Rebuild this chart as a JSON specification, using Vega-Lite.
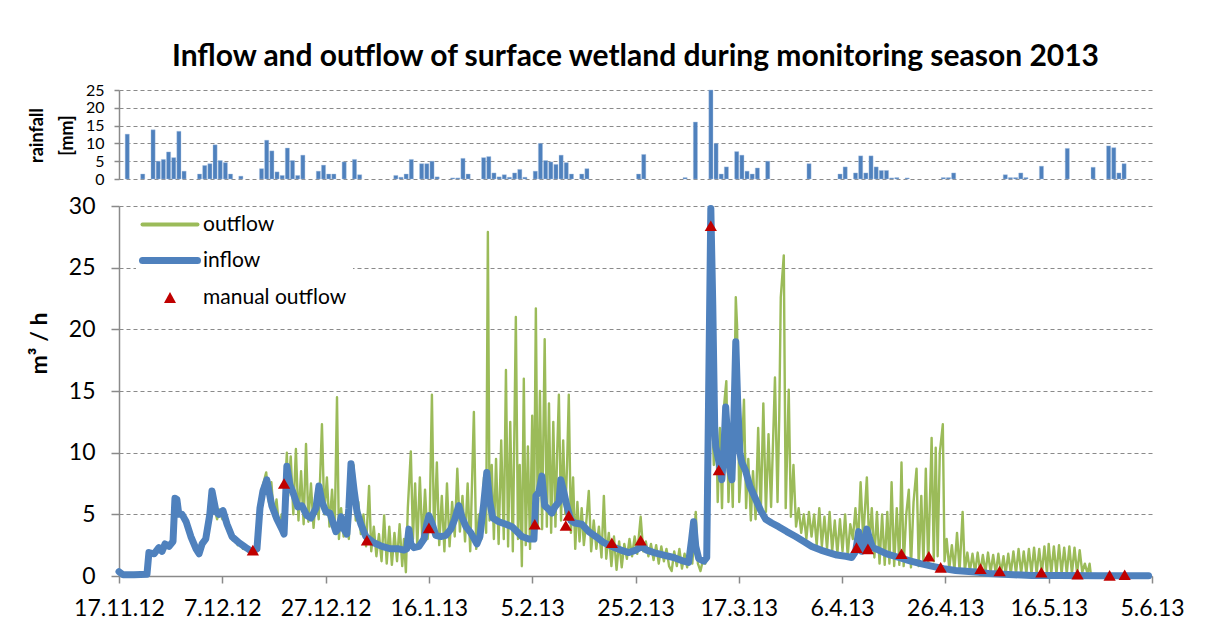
{
  "$schema": "https://vega.github.io/schema/vega-lite/v6.json",
  "background": "white",
  "padding": {"left": 28, "top": 42, "right": 10, "bottom": 5},
  "spacing": 8,
  "config": {
    "font": "Lato",
    "view": {"stroke": null},
    "axis": {
      "gridColor": "#8a8a8a", "gridDash": [4, 3], "gridWidth": 1.2,
      "domainColor": "#8a8a8a", "domainWidth": 1.5,
      "tickColor": "#8a8a8a", "tickWidth": 1.5,
      "labelColor": "#000000", "titleColor": "#000000",
      "labelFont": "Lato", "titleFont": "Lato"
    }
  },
  "datasets": {
    "rain": [
      {"t": "2012-11-18T00:00", "rain": 12.6}, {"t": "2012-11-21T00:00", "rain": 1.4},
      {"t": "2012-11-23T00:00", "rain": 13.8}, {"t": "2012-11-24T00:00", "rain": 5.0},
      {"t": "2012-11-25T00:00", "rain": 5.5}, {"t": "2012-11-26T00:00", "rain": 7.6},
      {"t": "2012-11-27T00:00", "rain": 6.0}, {"t": "2012-11-28T00:00", "rain": 13.4},
      {"t": "2012-11-29T00:00", "rain": 2.2}, {"t": "2012-12-02T00:00", "rain": 1.4},
      {"t": "2012-12-03T00:00", "rain": 3.8}, {"t": "2012-12-04T00:00", "rain": 4.3},
      {"t": "2012-12-05T00:00", "rain": 9.6}, {"t": "2012-12-06T00:00", "rain": 5.2},
      {"t": "2012-12-07T00:00", "rain": 4.6}, {"t": "2012-12-08T00:00", "rain": 1.4},
      {"t": "2012-12-10T00:00", "rain": 0.8}, {"t": "2012-12-14T00:00", "rain": 2.9},
      {"t": "2012-12-15T00:00", "rain": 10.9}, {"t": "2012-12-16T00:00", "rain": 7.9},
      {"t": "2012-12-17T00:00", "rain": 2.0}, {"t": "2012-12-18T00:00", "rain": 1.0},
      {"t": "2012-12-19T00:00", "rain": 8.7}, {"t": "2012-12-20T00:00", "rain": 5.2},
      {"t": "2012-12-21T00:00", "rain": 1.0}, {"t": "2012-12-22T00:00", "rain": 6.7},
      {"t": "2012-12-25T00:00", "rain": 2.2}, {"t": "2012-12-26T00:00", "rain": 3.9},
      {"t": "2012-12-27T00:00", "rain": 1.4}, {"t": "2012-12-28T00:00", "rain": 1.4},
      {"t": "2012-12-30T00:00", "rain": 4.8}, {"t": "2013-01-01T00:00", "rain": 5.5},
      {"t": "2013-01-02T00:00", "rain": 1.2}, {"t": "2013-01-09T00:00", "rain": 1.0},
      {"t": "2013-01-10T00:00", "rain": 0.5}, {"t": "2013-01-11T00:00", "rain": 1.4},
      {"t": "2013-01-12T00:00", "rain": 5.5}, {"t": "2013-01-14T00:00", "rain": 4.3},
      {"t": "2013-01-15T00:00", "rain": 4.3}, {"t": "2013-01-16T00:00", "rain": 5.0},
      {"t": "2013-01-17T00:00", "rain": 0.6}, {"t": "2013-01-20T00:00", "rain": 0.3},
      {"t": "2013-01-21T00:00", "rain": 0.3}, {"t": "2013-01-22T00:00", "rain": 5.8},
      {"t": "2013-01-23T00:00", "rain": 1.4}, {"t": "2013-01-26T00:00", "rain": 6.0},
      {"t": "2013-01-27T00:00", "rain": 6.3}, {"t": "2013-01-28T00:00", "rain": 1.7},
      {"t": "2013-01-29T00:00", "rain": 0.6}, {"t": "2013-01-30T00:00", "rain": 1.2},
      {"t": "2013-01-31T00:00", "rain": 0.5}, {"t": "2013-02-01T00:00", "rain": 1.7},
      {"t": "2013-02-02T00:00", "rain": 2.7}, {"t": "2013-02-03T00:00", "rain": 0.5},
      {"t": "2013-02-05T00:00", "rain": 2.2}, {"t": "2013-02-06T00:00", "rain": 10.0},
      {"t": "2013-02-07T00:00", "rain": 5.2}, {"t": "2013-02-08T00:00", "rain": 4.8},
      {"t": "2013-02-09T00:00", "rain": 4.1}, {"t": "2013-02-10T00:00", "rain": 6.7},
      {"t": "2013-02-11T00:00", "rain": 4.6}, {"t": "2013-02-12T00:00", "rain": 1.4},
      {"t": "2013-02-14T00:00", "rain": 1.4}, {"t": "2013-02-15T00:00", "rain": 2.9},
      {"t": "2013-02-25T00:00", "rain": 1.4}, {"t": "2013-02-26T00:00", "rain": 6.9},
      {"t": "2013-03-06T00:00", "rain": 0.4}, {"t": "2013-03-08T00:00", "rain": 16.0},
      {"t": "2013-03-11T00:00", "rain": 25.0}, {"t": "2013-03-12T00:00", "rain": 10.0},
      {"t": "2013-03-13T00:00", "rain": 1.4}, {"t": "2013-03-14T00:00", "rain": 3.4},
      {"t": "2013-03-16T00:00", "rain": 7.7}, {"t": "2013-03-17T00:00", "rain": 6.7},
      {"t": "2013-03-18T00:00", "rain": 2.2}, {"t": "2013-03-19T00:00", "rain": 1.4},
      {"t": "2013-03-20T00:00", "rain": 3.1}, {"t": "2013-03-22T00:00", "rain": 5.0},
      {"t": "2013-03-30T00:00", "rain": 4.3}, {"t": "2013-04-05T00:00", "rain": 1.4},
      {"t": "2013-04-06T00:00", "rain": 3.4}, {"t": "2013-04-08T00:00", "rain": 1.7},
      {"t": "2013-04-09T00:00", "rain": 6.5}, {"t": "2013-04-10T00:00", "rain": 1.7},
      {"t": "2013-04-11T00:00", "rain": 6.5}, {"t": "2013-04-12T00:00", "rain": 3.4},
      {"t": "2013-04-13T00:00", "rain": 2.4}, {"t": "2013-04-14T00:00", "rain": 2.4},
      {"t": "2013-04-15T00:00", "rain": 0.3}, {"t": "2013-04-16T00:00", "rain": 0.4},
      {"t": "2013-04-18T00:00", "rain": 0.3}, {"t": "2013-04-25T00:00", "rain": 0.4},
      {"t": "2013-04-26T00:00", "rain": 0.4}, {"t": "2013-04-27T00:00", "rain": 1.7},
      {"t": "2013-05-07T00:00", "rain": 1.2}, {"t": "2013-05-08T00:00", "rain": 0.4},
      {"t": "2013-05-09T00:00", "rain": 0.4}, {"t": "2013-05-10T00:00", "rain": 1.7},
      {"t": "2013-05-11T00:00", "rain": 0.4}, {"t": "2013-05-14T00:00", "rain": 3.6},
      {"t": "2013-05-19T00:00", "rain": 8.6}, {"t": "2013-05-24T00:00", "rain": 3.3},
      {"t": "2013-05-27T00:00", "rain": 9.3}, {"t": "2013-05-28T00:00", "rain": 8.8},
      {"t": "2013-05-29T00:00", "rain": 1.7}, {"t": "2013-05-30T00:00", "rain": 4.3}
    ],
    "inflow": [
      {"t": "2012-11-17T00:00", "v": 0.35}, {"t": "2012-11-17T19:00", "v": 0.1},
      {"t": "2012-11-19T22:00", "v": 0.1}, {"t": "2012-11-22T10:00", "v": 0.15},
      {"t": "2012-11-22T19:00", "v": 1.9}, {"t": "2012-11-23T19:00", "v": 1.8},
      {"t": "2012-11-24T17:00", "v": 2.3}, {"t": "2012-11-25T08:00", "v": 2.0},
      {"t": "2012-11-25T22:00", "v": 2.6}, {"t": "2012-11-26T16:00", "v": 2.4},
      {"t": "2012-11-27T11:00", "v": 2.8}, {"t": "2012-11-27T20:00", "v": 6.3},
      {"t": "2012-11-28T05:00", "v": 6.2}, {"t": "2012-11-28T14:00", "v": 5.0},
      {"t": "2012-11-29T05:00", "v": 5.0}, {"t": "2012-11-30T00:00", "v": 4.4},
      {"t": "2012-11-30T22:00", "v": 3.2}, {"t": "2012-12-01T22:00", "v": 2.2},
      {"t": "2012-12-02T12:00", "v": 1.8}, {"t": "2012-12-03T02:00", "v": 2.6},
      {"t": "2012-12-03T19:00", "v": 3.0}, {"t": "2012-12-04T14:00", "v": 5.0},
      {"t": "2012-12-05T00:00", "v": 6.9}, {"t": "2012-12-05T10:00", "v": 6.0},
      {"t": "2012-12-05T19:00", "v": 5.2}, {"t": "2012-12-06T08:00", "v": 5.0},
      {"t": "2012-12-07T03:00", "v": 5.3}, {"t": "2012-12-07T22:00", "v": 4.2},
      {"t": "2012-12-08T21:00", "v": 3.2}, {"t": "2012-12-10T05:00", "v": 2.7},
      {"t": "2012-12-11T14:00", "v": 2.3}, {"t": "2012-12-12T17:00", "v": 2.0},
      {"t": "2012-12-13T17:00", "v": 2.2}, {"t": "2012-12-14T07:00", "v": 5.5},
      {"t": "2012-12-14T21:00", "v": 6.9}, {"t": "2012-12-15T15:00", "v": 7.8},
      {"t": "2012-12-16T05:00", "v": 6.5}, {"t": "2012-12-16T14:00", "v": 5.7},
      {"t": "2012-12-17T14:00", "v": 4.6}, {"t": "2012-12-18T13:00", "v": 3.8},
      {"t": "2012-12-18T23:00", "v": 3.4}, {"t": "2012-12-19T12:00", "v": 8.9},
      {"t": "2012-12-20T02:00", "v": 7.4}, {"t": "2012-12-20T16:00", "v": 6.8},
      {"t": "2012-12-21T15:00", "v": 5.6}, {"t": "2012-12-22T10:00", "v": 5.7},
      {"t": "2012-12-23T09:00", "v": 4.9}, {"t": "2012-12-24T04:00", "v": 4.7},
      {"t": "2012-12-25T03:00", "v": 5.5}, {"t": "2012-12-25T17:00", "v": 7.3},
      {"t": "2012-12-26T07:00", "v": 6.0}, {"t": "2012-12-27T02:00", "v": 5.2},
      {"t": "2012-12-27T20:00", "v": 5.1}, {"t": "2012-12-29T00:00", "v": 3.6},
      {"t": "2012-12-29T14:00", "v": 3.9}, {"t": "2012-12-30T00:00", "v": 4.8},
      {"t": "2012-12-30T13:00", "v": 3.8}, {"t": "2012-12-31T03:00", "v": 3.4},
      {"t": "2012-12-31T12:00", "v": 5.5}, {"t": "2012-12-31T22:00", "v": 9.1},
      {"t": "2013-01-01T12:00", "v": 7.0}, {"t": "2013-01-02T02:00", "v": 5.2},
      {"t": "2013-01-02T20:00", "v": 4.2}, {"t": "2013-01-03T19:00", "v": 3.2},
      {"t": "2013-01-05T08:00", "v": 2.7}, {"t": "2013-01-06T22:00", "v": 2.4},
      {"t": "2013-01-08T15:00", "v": 2.2}, {"t": "2013-01-10T04:00", "v": 2.2},
      {"t": "2013-01-11T04:00", "v": 2.1}, {"t": "2013-01-11T17:00", "v": 2.2},
      {"t": "2013-01-12T03:00", "v": 3.8}, {"t": "2013-01-12T12:00", "v": 2.6},
      {"t": "2013-01-13T02:00", "v": 2.3}, {"t": "2013-01-14T02:00", "v": 2.4},
      {"t": "2013-01-15T01:00", "v": 3.0}, {"t": "2013-01-15T14:00", "v": 4.2},
      {"t": "2013-01-16T00:00", "v": 4.9}, {"t": "2013-01-16T14:00", "v": 4.3},
      {"t": "2013-01-17T08:00", "v": 3.3}, {"t": "2013-01-18T07:00", "v": 3.2},
      {"t": "2013-01-19T07:00", "v": 3.3}, {"t": "2013-01-20T06:00", "v": 3.8},
      {"t": "2013-01-21T00:00", "v": 4.6}, {"t": "2013-01-21T19:00", "v": 5.7},
      {"t": "2013-01-22T09:00", "v": 4.8}, {"t": "2013-01-23T04:00", "v": 4.0},
      {"t": "2013-01-24T03:00", "v": 3.5}, {"t": "2013-01-25T07:00", "v": 2.6},
      {"t": "2013-01-25T21:00", "v": 3.2}, {"t": "2013-01-26T15:00", "v": 5.9},
      {"t": "2013-01-27T05:00", "v": 8.4}, {"t": "2013-01-27T19:00", "v": 6.0},
      {"t": "2013-01-28T09:00", "v": 4.7}, {"t": "2013-01-29T13:00", "v": 4.4},
      {"t": "2013-01-30T22:00", "v": 4.2}, {"t": "2013-02-01T02:00", "v": 4.0},
      {"t": "2013-02-02T01:00", "v": 3.6}, {"t": "2013-02-03T00:00", "v": 3.2},
      {"t": "2013-02-04T08:00", "v": 3.0}, {"t": "2013-02-05T08:00", "v": 3.0},
      {"t": "2013-02-05T17:00", "v": 6.5}, {"t": "2013-02-06T07:00", "v": 6.8},
      {"t": "2013-02-06T21:00", "v": 8.1}, {"t": "2013-02-07T10:00", "v": 5.7},
      {"t": "2013-02-08T05:00", "v": 5.4}, {"t": "2013-02-08T19:00", "v": 5.1},
      {"t": "2013-02-09T09:00", "v": 5.6}, {"t": "2013-02-10T04:00", "v": 6.0},
      {"t": "2013-02-10T13:00", "v": 7.8}, {"t": "2013-02-11T03:00", "v": 6.8},
      {"t": "2013-02-11T17:00", "v": 5.7}, {"t": "2013-02-12T12:00", "v": 4.5},
      {"t": "2013-02-13T06:00", "v": 4.3}, {"t": "2013-02-14T14:00", "v": 4.2},
      {"t": "2013-02-15T23:00", "v": 3.6}, {"t": "2013-02-17T08:00", "v": 3.2},
      {"t": "2013-02-18T21:00", "v": 2.7}, {"t": "2013-02-20T10:00", "v": 2.4},
      {"t": "2013-02-22T04:00", "v": 2.1}, {"t": "2013-02-23T17:00", "v": 1.9},
      {"t": "2013-02-25T02:00", "v": 2.1}, {"t": "2013-02-26T05:00", "v": 2.4},
      {"t": "2013-02-27T04:00", "v": 2.1}, {"t": "2013-02-28T13:00", "v": 1.9},
      {"t": "2013-03-02T11:00", "v": 1.7}, {"t": "2013-03-04T10:00", "v": 1.5},
      {"t": "2013-03-06T08:00", "v": 1.2}, {"t": "2013-03-07T07:00", "v": 1.1},
      {"t": "2013-03-07T21:00", "v": 3.0}, {"t": "2013-03-08T06:00", "v": 4.4},
      {"t": "2013-03-08T16:00", "v": 2.4}, {"t": "2013-03-09T06:00", "v": 1.4},
      {"t": "2013-03-10T05:00", "v": 1.2}, {"t": "2013-03-10T19:00", "v": 1.5},
      {"t": "2013-03-11T04:00", "v": 15.0}, {"t": "2013-03-11T14:00", "v": 29.8},
      {"t": "2013-03-11T23:00", "v": 22.0}, {"t": "2013-03-12T08:00", "v": 12.0},
      {"t": "2013-03-12T13:00", "v": 10.5}, {"t": "2013-03-13T03:00", "v": 9.3},
      {"t": "2013-03-13T17:00", "v": 7.8}, {"t": "2013-03-14T02:00", "v": 10.0},
      {"t": "2013-03-14T11:00", "v": 13.7}, {"t": "2013-03-14T21:00", "v": 11.0},
      {"t": "2013-03-15T07:00", "v": 8.5}, {"t": "2013-03-15T16:00", "v": 7.8},
      {"t": "2013-03-16T00:00", "v": 12.0}, {"t": "2013-03-16T10:00", "v": 19.0},
      {"t": "2013-03-16T19:00", "v": 14.0}, {"t": "2013-03-17T05:00", "v": 10.0},
      {"t": "2013-03-17T14:00", "v": 9.2}, {"t": "2013-03-18T08:00", "v": 8.5},
      {"t": "2013-03-19T03:00", "v": 7.3}, {"t": "2013-03-20T07:00", "v": 6.2},
      {"t": "2013-03-21T06:00", "v": 5.3}, {"t": "2013-03-22T05:00", "v": 4.6},
      {"t": "2013-03-23T09:00", "v": 4.3}, {"t": "2013-03-24T17:00", "v": 4.0},
      {"t": "2013-03-26T07:00", "v": 3.6}, {"t": "2013-03-28T00:00", "v": 3.2},
      {"t": "2013-03-29T14:00", "v": 2.8}, {"t": "2013-03-31T03:00", "v": 2.4},
      {"t": "2013-04-01T21:00", "v": 2.1}, {"t": "2013-04-03T10:00", "v": 1.9},
      {"t": "2013-04-05T00:00", "v": 1.7}, {"t": "2013-04-06T17:00", "v": 1.6},
      {"t": "2013-04-07T21:00", "v": 1.5}, {"t": "2013-04-08T15:00", "v": 2.0},
      {"t": "2013-04-09T05:00", "v": 3.6}, {"t": "2013-04-09T19:00", "v": 2.0},
      {"t": "2013-04-10T09:00", "v": 2.6}, {"t": "2013-04-10T19:00", "v": 3.8},
      {"t": "2013-04-11T08:00", "v": 3.0}, {"t": "2013-04-11T22:00", "v": 2.3},
      {"t": "2013-04-13T02:00", "v": 2.1}, {"t": "2013-04-14T15:00", "v": 1.8},
      {"t": "2013-04-17T00:00", "v": 1.5}, {"t": "2013-04-19T07:00", "v": 1.2},
      {"t": "2013-04-21T05:00", "v": 1.0}, {"t": "2013-04-23T08:00", "v": 0.8},
      {"t": "2013-04-25T16:00", "v": 0.6}, {"t": "2013-04-28T00:00", "v": 0.45},
      {"t": "2013-04-29T22:00", "v": 0.38}, {"t": "2013-05-02T10:00", "v": 0.3},
      {"t": "2013-05-04T09:00", "v": 0.2}, {"t": "2013-05-06T07:00", "v": 0.16},
      {"t": "2013-05-09T05:00", "v": 0.1}, {"t": "2013-05-12T17:00", "v": 0.05},
      {"t": "2013-05-17T22:00", "v": 0.04}, {"t": "2013-05-25T16:00", "v": 0.03},
      {"t": "2013-06-04T08:00", "v": 0.03}
    ],
    "outflow": [
      {"t": "2012-12-02T12:00", "v": 1.8}, {"t": "2012-12-03T00:00", "v": 2.4},
      {"t": "2012-12-03T12:00", "v": 2.9}, {"t": "2012-12-04T00:00", "v": 3.4},
      {"t": "2012-12-04T12:00", "v": 4.8}, {"t": "2012-12-05T00:00", "v": 6.4},
      {"t": "2012-12-05T12:00", "v": 5.4}, {"t": "2012-12-06T00:00", "v": 4.6},
      {"t": "2012-12-06T12:00", "v": 5.4}, {"t": "2012-12-07T00:00", "v": 4.6},
      {"t": "2012-12-07T12:00", "v": 5.0}, {"t": "2012-12-08T00:00", "v": 3.8},
      {"t": "2012-12-08T12:00", "v": 3.6}, {"t": "2012-12-09T00:00", "v": 2.9},
      {"t": "2012-12-09T12:00", "v": 3.0}, {"t": "2012-12-10T00:00", "v": 2.5},
      {"t": "2012-12-10T12:00", "v": 2.6}, {"t": "2012-12-11T00:00", "v": 2.2},
      {"t": "2012-12-11T12:00", "v": 2.4}, {"t": "2012-12-12T00:00", "v": 2.0},
      {"t": "2012-12-12T12:00", "v": 2.1}, {"t": "2012-12-13T00:00", "v": 1.9},
      {"t": "2012-12-13T12:00", "v": 2.4}, {"t": "2012-12-14T00:00", "v": 3.5},
      {"t": "2012-12-14T12:00", "v": 6.8}, {"t": "2012-12-15T00:00", "v": 7.6},
      {"t": "2012-12-15T12:00", "v": 8.4}, {"t": "2012-12-16T00:00", "v": 6.0},
      {"t": "2012-12-16T12:00", "v": 7.6}, {"t": "2012-12-17T00:00", "v": 4.8},
      {"t": "2012-12-17T12:00", "v": 6.2}, {"t": "2012-12-18T00:00", "v": 3.9},
      {"t": "2012-12-18T12:00", "v": 5.0}, {"t": "2012-12-19T00:00", "v": 3.5},
      {"t": "2012-12-19T06:00", "v": 8.0}, {"t": "2012-12-19T12:00", "v": 10.0},
      {"t": "2012-12-19T18:00", "v": 6.5}, {"t": "2012-12-20T06:00", "v": 9.7},
      {"t": "2012-12-20T18:00", "v": 5.0}, {"t": "2012-12-21T06:00", "v": 10.3},
      {"t": "2012-12-21T18:00", "v": 4.5}, {"t": "2012-12-22T06:00", "v": 8.5},
      {"t": "2012-12-22T18:00", "v": 4.2}, {"t": "2012-12-23T05:00", "v": 10.7},
      {"t": "2012-12-23T16:00", "v": 4.4}, {"t": "2012-12-24T04:00", "v": 7.5},
      {"t": "2012-12-24T16:00", "v": 3.9}, {"t": "2012-12-25T04:00", "v": 6.8},
      {"t": "2012-12-25T16:00", "v": 4.6}, {"t": "2012-12-26T07:00", "v": 12.3},
      {"t": "2012-12-26T18:00", "v": 5.0}, {"t": "2012-12-27T06:00", "v": 8.0},
      {"t": "2012-12-27T18:00", "v": 4.0}, {"t": "2012-12-28T06:00", "v": 7.0},
      {"t": "2012-12-28T18:00", "v": 3.5}, {"t": "2012-12-29T05:00", "v": 14.5},
      {"t": "2012-12-29T14:00", "v": 3.0}, {"t": "2012-12-30T00:00", "v": 5.5},
      {"t": "2012-12-30T12:00", "v": 3.2}, {"t": "2012-12-31T00:00", "v": 5.0},
      {"t": "2012-12-31T12:00", "v": 3.0}, {"t": "2012-12-31T22:00", "v": 8.5},
      {"t": "2013-01-01T10:00", "v": 9.0}, {"t": "2013-01-01T20:00", "v": 4.5},
      {"t": "2013-01-02T08:00", "v": 6.0}, {"t": "2013-01-02T20:00", "v": 3.4},
      {"t": "2013-01-03T08:00", "v": 5.0}, {"t": "2013-01-03T20:00", "v": 2.4},
      {"t": "2013-01-04T10:00", "v": 7.3}, {"t": "2013-01-04T20:00", "v": 2.0},
      {"t": "2013-01-05T08:00", "v": 4.0}, {"t": "2013-01-05T20:00", "v": 1.6},
      {"t": "2013-01-06T08:00", "v": 3.4}, {"t": "2013-01-06T20:00", "v": 1.2},
      {"t": "2013-01-07T08:00", "v": 4.9}, {"t": "2013-01-07T20:00", "v": 1.0},
      {"t": "2013-01-08T08:00", "v": 4.0}, {"t": "2013-01-08T20:00", "v": 0.9},
      {"t": "2013-01-09T08:00", "v": 3.5}, {"t": "2013-01-09T20:00", "v": 1.2},
      {"t": "2013-01-10T08:00", "v": 4.2}, {"t": "2013-01-10T20:00", "v": 0.8},
      {"t": "2013-01-11T04:00", "v": 3.0}, {"t": "2013-01-11T13:00", "v": 0.3},
      {"t": "2013-01-11T22:00", "v": 5.5}, {"t": "2013-01-12T12:00", "v": 10.1},
      {"t": "2013-01-12T22:00", "v": 3.0}, {"t": "2013-01-13T08:00", "v": 7.5},
      {"t": "2013-01-13T18:00", "v": 2.4}, {"t": "2013-01-14T06:00", "v": 8.0},
      {"t": "2013-01-14T18:00", "v": 2.6}, {"t": "2013-01-15T06:00", "v": 7.0},
      {"t": "2013-01-15T18:00", "v": 3.0}, {"t": "2013-01-16T04:00", "v": 5.0},
      {"t": "2013-01-16T14:00", "v": 14.7}, {"t": "2013-01-17T00:00", "v": 3.2},
      {"t": "2013-01-17T13:00", "v": 9.2}, {"t": "2013-01-18T00:00", "v": 2.5},
      {"t": "2013-01-18T12:00", "v": 6.5}, {"t": "2013-01-19T00:00", "v": 2.0},
      {"t": "2013-01-19T12:00", "v": 7.5}, {"t": "2013-01-20T00:00", "v": 2.4},
      {"t": "2013-01-20T12:00", "v": 6.0}, {"t": "2013-01-21T00:00", "v": 3.2},
      {"t": "2013-01-21T12:00", "v": 8.7}, {"t": "2013-01-22T00:00", "v": 3.6},
      {"t": "2013-01-22T12:00", "v": 6.5}, {"t": "2013-01-23T00:00", "v": 2.8},
      {"t": "2013-01-23T12:00", "v": 7.5}, {"t": "2013-01-24T00:00", "v": 2.0},
      {"t": "2013-01-24T17:00", "v": 13.3}, {"t": "2013-01-25T04:00", "v": 2.2},
      {"t": "2013-01-25T16:00", "v": 5.0}, {"t": "2013-01-26T04:00", "v": 3.0},
      {"t": "2013-01-26T16:00", "v": 8.0}, {"t": "2013-01-27T02:00", "v": 3.5},
      {"t": "2013-01-27T10:00", "v": 27.9}, {"t": "2013-01-27T18:00", "v": 4.5},
      {"t": "2013-01-28T04:00", "v": 9.0}, {"t": "2013-01-28T14:00", "v": 3.0},
      {"t": "2013-01-29T00:00", "v": 9.5}, {"t": "2013-01-29T12:00", "v": 2.6},
      {"t": "2013-01-30T00:00", "v": 11.0}, {"t": "2013-01-30T12:00", "v": 3.0},
      {"t": "2013-01-30T22:00", "v": 16.7}, {"t": "2013-01-31T08:00", "v": 2.4},
      {"t": "2013-01-31T18:00", "v": 12.5}, {"t": "2013-02-01T06:00", "v": 2.0},
      {"t": "2013-02-01T20:00", "v": 21.0}, {"t": "2013-02-02T06:00", "v": 3.0},
      {"t": "2013-02-02T14:00", "v": 9.0}, {"t": "2013-02-03T00:00", "v": 0.8},
      {"t": "2013-02-03T09:00", "v": 16.0}, {"t": "2013-02-03T18:00", "v": 2.5},
      {"t": "2013-02-04T04:00", "v": 10.5}, {"t": "2013-02-04T14:00", "v": 2.2},
      {"t": "2013-02-05T00:00", "v": 13.0}, {"t": "2013-02-05T08:00", "v": 3.5},
      {"t": "2013-02-05T17:00", "v": 21.7}, {"t": "2013-02-06T02:00", "v": 4.0},
      {"t": "2013-02-06T12:00", "v": 15.0}, {"t": "2013-02-06T22:00", "v": 3.8},
      {"t": "2013-02-07T10:00", "v": 19.2}, {"t": "2013-02-07T20:00", "v": 4.0},
      {"t": "2013-02-08T06:00", "v": 14.0}, {"t": "2013-02-08T16:00", "v": 3.5},
      {"t": "2013-02-09T02:00", "v": 12.5}, {"t": "2013-02-09T12:00", "v": 4.0},
      {"t": "2013-02-09T20:00", "v": 10.0}, {"t": "2013-02-10T04:00", "v": 14.7},
      {"t": "2013-02-10T14:00", "v": 4.5}, {"t": "2013-02-11T00:00", "v": 11.0},
      {"t": "2013-02-11T10:00", "v": 5.0}, {"t": "2013-02-11T18:00", "v": 9.0},
      {"t": "2013-02-12T02:00", "v": 14.7}, {"t": "2013-02-12T12:00", "v": 3.5},
      {"t": "2013-02-12T22:00", "v": 8.0}, {"t": "2013-02-13T08:00", "v": 2.2},
      {"t": "2013-02-13T18:00", "v": 6.0}, {"t": "2013-02-14T04:00", "v": 2.8},
      {"t": "2013-02-14T14:00", "v": 5.5}, {"t": "2013-02-15T00:00", "v": 2.5},
      {"t": "2013-02-15T12:00", "v": 4.5}, {"t": "2013-02-15T23:00", "v": 6.9},
      {"t": "2013-02-16T10:00", "v": 2.0}, {"t": "2013-02-16T22:00", "v": 4.5},
      {"t": "2013-02-17T10:00", "v": 2.2}, {"t": "2013-02-17T22:00", "v": 4.0},
      {"t": "2013-02-18T10:00", "v": 1.5}, {"t": "2013-02-18T21:00", "v": 6.5},
      {"t": "2013-02-19T08:00", "v": 1.4}, {"t": "2013-02-19T20:00", "v": 3.5},
      {"t": "2013-02-20T08:00", "v": 0.8}, {"t": "2013-02-20T20:00", "v": 3.2},
      {"t": "2013-02-21T08:00", "v": 0.5}, {"t": "2013-02-21T20:00", "v": 2.8},
      {"t": "2013-02-22T08:00", "v": 0.7}, {"t": "2013-02-22T20:00", "v": 2.6},
      {"t": "2013-02-23T08:00", "v": 1.4}, {"t": "2013-02-23T20:00", "v": 3.0},
      {"t": "2013-02-24T08:00", "v": 1.6}, {"t": "2013-02-24T20:00", "v": 3.2},
      {"t": "2013-02-25T08:00", "v": 1.8}, {"t": "2013-02-26T00:00", "v": 4.8},
      {"t": "2013-02-26T12:00", "v": 2.0}, {"t": "2013-02-27T00:00", "v": 2.8},
      {"t": "2013-02-27T12:00", "v": 1.6}, {"t": "2013-02-28T00:00", "v": 2.6},
      {"t": "2013-02-28T12:00", "v": 1.3}, {"t": "2013-03-01T00:00", "v": 2.5},
      {"t": "2013-03-01T12:00", "v": 1.0}, {"t": "2013-03-02T00:00", "v": 2.4},
      {"t": "2013-03-02T12:00", "v": 1.2}, {"t": "2013-03-03T00:00", "v": 2.2},
      {"t": "2013-03-03T12:00", "v": 0.8}, {"t": "2013-03-04T00:00", "v": 0.4},
      {"t": "2013-03-04T12:00", "v": 2.0}, {"t": "2013-03-05T00:00", "v": 0.8},
      {"t": "2013-03-05T12:00", "v": 2.2}, {"t": "2013-03-06T00:00", "v": 0.6},
      {"t": "2013-03-06T12:00", "v": 1.8}, {"t": "2013-03-07T00:00", "v": 0.7},
      {"t": "2013-03-07T12:00", "v": 2.8}, {"t": "2013-03-08T00:00", "v": 1.0},
      {"t": "2013-03-08T16:00", "v": 5.2}, {"t": "2013-03-09T02:00", "v": 1.0},
      {"t": "2013-03-09T14:00", "v": 0.4}, {"t": "2013-03-10T00:00", "v": 1.2},
      {"t": "2013-03-10T12:00", "v": 1.0}, {"t": "2013-03-10T22:00", "v": 10.0},
      {"t": "2013-03-11T08:00", "v": 18.0}, {"t": "2013-03-11T18:00", "v": 14.0},
      {"t": "2013-03-12T04:00", "v": 9.0}, {"t": "2013-03-12T14:00", "v": 13.5},
      {"t": "2013-03-12T22:00", "v": 6.0}, {"t": "2013-03-13T08:00", "v": 12.0},
      {"t": "2013-03-13T18:00", "v": 5.5}, {"t": "2013-03-14T04:00", "v": 13.9},
      {"t": "2013-03-14T14:00", "v": 15.8}, {"t": "2013-03-15T00:00", "v": 6.0},
      {"t": "2013-03-15T10:00", "v": 11.0}, {"t": "2013-03-15T20:00", "v": 5.6},
      {"t": "2013-03-16T10:00", "v": 22.6}, {"t": "2013-03-16T16:00", "v": 20.3},
      {"t": "2013-03-17T02:00", "v": 6.0}, {"t": "2013-03-17T12:00", "v": 9.0},
      {"t": "2013-03-18T00:00", "v": 14.3}, {"t": "2013-03-18T10:00", "v": 5.5},
      {"t": "2013-03-18T20:00", "v": 9.5}, {"t": "2013-03-19T08:00", "v": 4.5},
      {"t": "2013-03-19T18:00", "v": 8.5}, {"t": "2013-03-20T06:00", "v": 4.6},
      {"t": "2013-03-20T18:00", "v": 12.0}, {"t": "2013-03-21T06:00", "v": 5.0},
      {"t": "2013-03-21T18:00", "v": 14.0}, {"t": "2013-03-22T06:00", "v": 5.2},
      {"t": "2013-03-22T18:00", "v": 11.5}, {"t": "2013-03-23T06:00", "v": 5.6},
      {"t": "2013-03-24T00:00", "v": 16.1}, {"t": "2013-03-24T12:00", "v": 6.0},
      {"t": "2013-03-24T20:00", "v": 13.0}, {"t": "2013-03-25T03:00", "v": 22.6},
      {"t": "2013-03-25T17:00", "v": 26.0}, {"t": "2013-03-26T02:00", "v": 5.5},
      {"t": "2013-03-26T16:00", "v": 15.1}, {"t": "2013-03-27T02:00", "v": 4.8},
      {"t": "2013-03-27T14:00", "v": 9.0}, {"t": "2013-03-28T02:00", "v": 4.0},
      {"t": "2013-03-28T14:00", "v": 5.5}, {"t": "2013-03-29T02:00", "v": 3.5},
      {"t": "2013-03-29T14:00", "v": 5.0}, {"t": "2013-03-30T02:00", "v": 3.0},
      {"t": "2013-03-30T14:00", "v": 5.2}, {"t": "2013-03-31T02:00", "v": 3.2},
      {"t": "2013-03-31T14:00", "v": 5.0}, {"t": "2013-04-01T02:00", "v": 2.5},
      {"t": "2013-04-01T14:00", "v": 5.5}, {"t": "2013-04-02T02:00", "v": 2.4},
      {"t": "2013-04-02T14:00", "v": 4.8}, {"t": "2013-04-03T02:00", "v": 2.2},
      {"t": "2013-04-03T14:00", "v": 5.2}, {"t": "2013-04-04T02:00", "v": 2.0},
      {"t": "2013-04-04T14:00", "v": 4.5}, {"t": "2013-04-05T02:00", "v": 1.8},
      {"t": "2013-04-05T14:00", "v": 4.6}, {"t": "2013-04-06T02:00", "v": 2.0},
      {"t": "2013-04-06T14:00", "v": 5.0}, {"t": "2013-04-07T02:00", "v": 1.6},
      {"t": "2013-04-07T14:00", "v": 4.2}, {"t": "2013-04-08T02:00", "v": 3.0},
      {"t": "2013-04-08T14:00", "v": 5.5}, {"t": "2013-04-09T02:00", "v": 2.5},
      {"t": "2013-04-09T14:00", "v": 7.6}, {"t": "2013-04-10T02:00", "v": 3.0},
      {"t": "2013-04-10T19:00", "v": 8.0}, {"t": "2013-04-11T06:00", "v": 2.5},
      {"t": "2013-04-11T18:00", "v": 5.5}, {"t": "2013-04-12T06:00", "v": 1.5},
      {"t": "2013-04-12T18:00", "v": 5.2}, {"t": "2013-04-13T06:00", "v": 1.0},
      {"t": "2013-04-13T18:00", "v": 5.0}, {"t": "2013-04-14T06:00", "v": 0.9},
      {"t": "2013-04-14T18:00", "v": 5.2}, {"t": "2013-04-15T04:00", "v": 1.0},
      {"t": "2013-04-15T14:00", "v": 7.6}, {"t": "2013-04-16T02:00", "v": 0.8},
      {"t": "2013-04-16T14:00", "v": 5.5}, {"t": "2013-04-17T02:00", "v": 0.9},
      {"t": "2013-04-17T12:00", "v": 9.2}, {"t": "2013-04-17T22:00", "v": 0.8},
      {"t": "2013-04-18T10:00", "v": 5.0}, {"t": "2013-04-18T22:00", "v": 7.0},
      {"t": "2013-04-19T08:00", "v": 0.7}, {"t": "2013-04-19T20:00", "v": 6.0},
      {"t": "2013-04-20T10:00", "v": 8.7}, {"t": "2013-04-20T20:00", "v": 0.8},
      {"t": "2013-04-21T08:00", "v": 6.5}, {"t": "2013-04-21T18:00", "v": 1.0},
      {"t": "2013-04-22T05:00", "v": 8.7}, {"t": "2013-04-22T16:00", "v": 0.9},
      {"t": "2013-04-23T08:00", "v": 11.2}, {"t": "2013-04-23T18:00", "v": 1.2},
      {"t": "2013-04-24T03:00", "v": 10.4}, {"t": "2013-04-24T12:00", "v": 1.6},
      {"t": "2013-04-24T22:00", "v": 10.0}, {"t": "2013-04-25T12:00", "v": 12.3},
      {"t": "2013-04-25T20:00", "v": 1.2}, {"t": "2013-04-26T06:00", "v": 3.0},
      {"t": "2013-04-26T18:00", "v": 0.6}, {"t": "2013-04-27T06:00", "v": 2.5},
      {"t": "2013-04-27T18:00", "v": 0.5}, {"t": "2013-04-28T06:00", "v": 3.5},
      {"t": "2013-04-28T18:00", "v": 0.4}, {"t": "2013-04-29T08:00", "v": 5.2},
      {"t": "2013-04-29T18:00", "v": 0.4}, {"t": "2013-04-30T06:00", "v": 1.9},
      {"t": "2013-04-30T18:00", "v": 0.4}, {"t": "2013-05-01T06:00", "v": 1.8},
      {"t": "2013-05-01T18:00", "v": 0.3}, {"t": "2013-05-02T06:00", "v": 1.9},
      {"t": "2013-05-02T18:00", "v": 0.3}, {"t": "2013-05-03T06:00", "v": 1.7},
      {"t": "2013-05-03T18:00", "v": 0.3}, {"t": "2013-05-04T06:00", "v": 1.9},
      {"t": "2013-05-04T18:00", "v": 0.3}, {"t": "2013-05-05T06:00", "v": 1.7},
      {"t": "2013-05-05T18:00", "v": 0.2}, {"t": "2013-05-06T06:00", "v": 1.8},
      {"t": "2013-05-06T18:00", "v": 0.2}, {"t": "2013-05-07T06:00", "v": 1.6},
      {"t": "2013-05-07T16:00", "v": 0.2}, {"t": "2013-05-08T04:00", "v": 1.8},
      {"t": "2013-05-08T16:00", "v": 0.2}, {"t": "2013-05-09T04:00", "v": 2.0},
      {"t": "2013-05-09T16:00", "v": 0.2}, {"t": "2013-05-10T04:00", "v": 2.2},
      {"t": "2013-05-10T16:00", "v": 0.2}, {"t": "2013-05-11T04:00", "v": 2.0},
      {"t": "2013-05-11T16:00", "v": 0.2}, {"t": "2013-05-12T04:00", "v": 2.2},
      {"t": "2013-05-12T16:00", "v": 0.2}, {"t": "2013-05-13T04:00", "v": 2.3},
      {"t": "2013-05-13T16:00", "v": 0.2}, {"t": "2013-05-14T04:00", "v": 2.2},
      {"t": "2013-05-14T16:00", "v": 0.2}, {"t": "2013-05-15T04:00", "v": 2.4},
      {"t": "2013-05-15T16:00", "v": 0.2}, {"t": "2013-05-16T00:00", "v": 2.6},
      {"t": "2013-05-16T12:00", "v": 0.2}, {"t": "2013-05-17T00:00", "v": 2.4},
      {"t": "2013-05-17T12:00", "v": 0.2}, {"t": "2013-05-18T00:00", "v": 2.5},
      {"t": "2013-05-18T12:00", "v": 0.2}, {"t": "2013-05-19T00:00", "v": 2.3},
      {"t": "2013-05-19T12:00", "v": 0.2}, {"t": "2013-05-20T00:00", "v": 2.4},
      {"t": "2013-05-20T12:00", "v": 0.2}, {"t": "2013-05-21T00:00", "v": 2.3},
      {"t": "2013-05-21T12:00", "v": 0.2}, {"t": "2013-05-22T00:00", "v": 2.1},
      {"t": "2013-05-22T12:00", "v": 0.3}, {"t": "2013-05-23T00:00", "v": 1.0},
      {"t": "2013-05-23T12:00", "v": 0.2}, {"t": "2013-05-23T22:00", "v": 1.0},
      {"t": "2013-05-24T04:00", "v": 0.1}
    ],
    "manual": [
      {"t": "2012-12-12T22:00", "v": 2.1}, {"t": "2012-12-18T23:00", "v": 7.5},
      {"t": "2013-01-04T00:00", "v": 2.9}, {"t": "2013-01-16T00:00", "v": 3.9},
      {"t": "2013-02-05T12:00", "v": 4.2}, {"t": "2013-02-11T12:00", "v": 4.1},
      {"t": "2013-02-12T02:00", "v": 4.9}, {"t": "2013-02-20T10:00", "v": 2.7},
      {"t": "2013-02-26T00:00", "v": 2.9}, {"t": "2013-03-11T14:00", "v": 28.4},
      {"t": "2013-03-13T03:00", "v": 8.6}, {"t": "2013-04-08T19:00", "v": 2.3},
      {"t": "2013-04-11T00:00", "v": 2.2}, {"t": "2013-04-17T12:00", "v": 1.8},
      {"t": "2013-04-22T19:00", "v": 1.6}, {"t": "2013-04-25T02:00", "v": 0.7},
      {"t": "2013-05-02T19:00", "v": 0.6}, {"t": "2013-05-06T12:00", "v": 0.4},
      {"t": "2013-05-14T14:00", "v": 0.3}, {"t": "2013-05-21T14:00", "v": 0.15},
      {"t": "2013-05-27T19:00", "v": 0.05}, {"t": "2013-05-30T17:00", "v": 0.1}
    ]
  },
  "vconcat": [
    {
      "width": 1033,
      "height": 89,
      "title": {
        "text": "Inflow and outflow of surface wetland during monitoring season 2013",
        "fontSize": 30, "fontWeight": "bold", "font": "Lato", "color": "#000000",
        "anchor": "middle", "frame": "group", "offset": 10
      },
      "data": {"name": "rain"},
      "mark": {"type": "bar", "color": "#4F81BD", "stroke": "#a9c2e3", "strokeWidth": 0.4},
      "encoding": {
        "x": {
          "field": "t", "type": "temporal", "timeUnit": "yearmonthdate",
          "scale": {"domain": [{"year": 2012, "month": 11, "date": 17}, {"year": 2013, "month": 6, "date": 5}]},
          "axis": null
        },
        "y": {
          "field": "rain", "type": "quantitative",
          "scale": {"domain": [0, 25], "nice": false},
          "axis": {
            "values": [0, 5, 10, 15, 20, 25],
            "title": ["rainfall", "[mm]"],
            "titleFontSize": 18, "titleFontWeight": "bold", "titleLineHeight": 30,
            "titleAngle": 270, "titleBaseline": "middle", "titleAlign": "center",
            "titleX": -82, "titleY": 45,
            "labelFontSize": 16, "tickSize": 5, "labelPadding": 10
          }
        }
      }
    },
    {
      "width": 1033,
      "height": 370,
      "encoding": {
        "x": {
          "field": "t", "type": "temporal",
          "scale": {"domain": [{"year": 2012, "month": 11, "date": 17}, {"year": 2013, "month": 6, "date": 5}]},
          "axis": {
            "values": [
              {"year": 2012, "month": 11, "date": 17}, {"year": 2012, "month": 12, "date": 7},
              {"year": 2012, "month": 12, "date": 27}, {"year": 2013, "month": 1, "date": 16},
              {"year": 2013, "month": 2, "date": 5}, {"year": 2013, "month": 2, "date": 25},
              {"year": 2013, "month": 3, "date": 17}, {"year": 2013, "month": 4, "date": 6},
              {"year": 2013, "month": 4, "date": 26}, {"year": 2013, "month": 5, "date": 16},
              {"year": 2013, "month": 6, "date": 5}
            ],
            "format": "%-d.%-m.%y",
            "title": null, "grid": false,
            "labelFontSize": 23, "tickSize": 7, "labelPadding": 14,
            "labelFlush": false, "labelOverlap": false
          }
        },
        "y": {
          "field": "v", "type": "quantitative",
          "scale": {"domain": [0, 30], "nice": false},
          "axis": {
            "values": [0, 5, 10, 15, 20, 25, 30],
            "title": "m³ / h",
            "titleFontSize": 23, "titleFontWeight": "bold",
            "titleAngle": 270, "titleBaseline": "middle", "titleAlign": "center",
            "titleX": -80, "titleY": 137,
            "labelFontSize": 23, "tickSize": 8, "labelPadding": 16
          }
        }
      },
      "layer": [
        {
          "data": {"name": "outflow"},
          "mark": {"type": "line", "strokeWidth": 2.4, "strokeJoin": "round"},
          "encoding": {
            "color": {
              "datum": "outflow", "type": "nominal",
              "scale": {"domain": ["outflow", "inflow", "manual outflow"], "range": ["#9BBB59", "#4F81BD", "#C00000"]},
              "legend": {
                "orient": "none", "legendX": 17, "legendY": 118,
                "title": null, "padding": 6, "fillColor": "white",
                "labelFontSize": 21, "labelFont": "Lato", "labelColor": "#000000",
                "symbolSize": 400, "symbolType": "M-1,0H4.5", "labelOffset": 40, "rowPadding": 11,
                "encode": {
                  "symbols": {
                    "update": {
                      "shape": {"signal": "datum.value === 'manual outflow' ? 'M1.15,0.55L2.35,0.55L1.75,-0.55Z' : 'M-1,0H4.5'"},
                      "fill": {"signal": "datum.value === 'manual outflow' ? '#C00000' : 'transparent'"},
                      "stroke": {"signal": "datum.value === 'outflow' ? '#9BBB59' : (datum.value === 'inflow' ? '#4F81BD' : 'transparent')"},
                      "strokeWidth": {"signal": "datum.value === 'inflow' ? 7 : (datum.value === 'outflow' ? 4 : 0)"},
                      "strokeCap": {"value": "round"},
                      "opacity": {"value": 1}
                    }
                  }
                }
              }
            }
          }
        },
        {
          "data": {"name": "inflow"},
          "mark": {"type": "line", "strokeWidth": 7, "strokeJoin": "round", "strokeCap": "round"},
          "encoding": {"color": {"datum": "inflow", "type": "nominal"}}
        },
        {
          "data": {"name": "manual"},
          "mark": {"type": "point", "shape": "triangle-up", "filled": true, "size": 150, "opacity": 1},
          "encoding": {"color": {"datum": "manual outflow", "type": "nominal"}}
        }
      ]
    }
  ]
}
